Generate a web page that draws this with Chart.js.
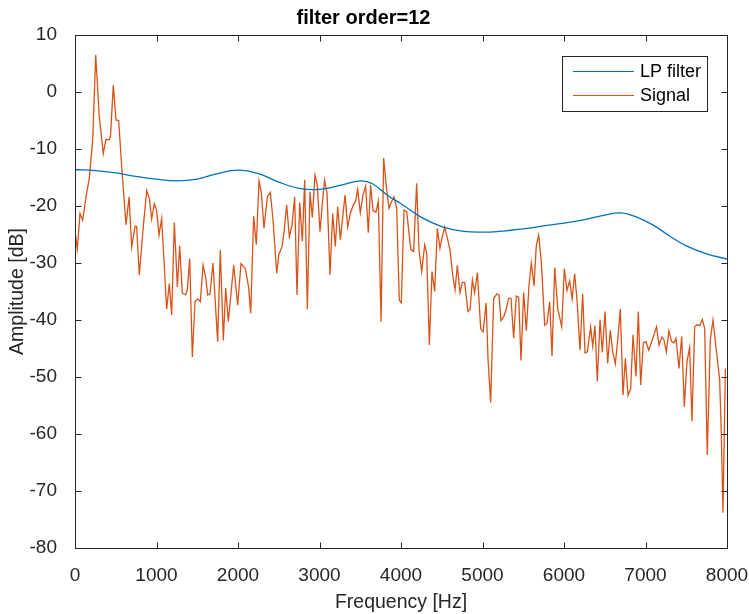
<!DOCTYPE html>
<html>
<head>
<meta charset="utf-8">
<script src="https://cdn.jsdelivr.net/npm/chart.js@4/dist/chart.umd.min.js"></script>
<style>
html, body { margin: 0; padding: 0; background: #fff; }
</style>
</head>
<body>
<canvas id="grafico" width="749" height="614"></canvas>
<script>
// frequências do sinal (Hz) e amplitude (dB)
const signalHz = [0, 28, 61, 94, 135, 176, 217, 254, 298, 347, 380, 421, 436, 470, 503, 536, 573, 626, 663, 696,
  736, 756, 789, 838, 880, 913, 941, 973, 1001, 1031, 1063, 1125, 1157, 1186, 1219, 1256, 1284, 1317, 1358, 1378,
  1407, 1440, 1472, 1505, 1538, 1571, 1604, 1628, 1656, 1693, 1750, 1783, 1820, 1849, 1881, 1947, 1996, 2037, 2090, 2130,
  2156, 2192, 2225, 2258, 2286, 2319, 2360, 2397, 2430, 2475, 2500, 2540, 2565, 2597, 2630, 2663, 2695, 2724, 2757, 2790,
  2818, 2851, 2883, 2912, 2945, 2973, 3006, 3038, 3062, 3092, 3129, 3162, 3194, 3223, 3256, 3313, 3346, 3378, 3415, 3443,
  3468, 3501, 3533, 3566, 3599, 3627, 3656, 3693, 3722, 3755, 3787, 3820, 3853, 3885, 3914, 3947, 3979, 4004, 4037, 4070,
  4120, 4155, 4192, 4221, 4254, 4291, 4315, 4348, 4380, 4413, 4446, 4478, 4503, 4536, 4569, 4601, 4634, 4663, 4691, 4724,
  4753, 4781, 4822, 4847, 4876, 4904, 4937, 4978, 5007, 5045, 5068, 5100, 5137, 5178, 5202, 5227, 5260, 5288, 5321, 5350,
  5382, 5415, 5444, 5472, 5505, 5538, 5570, 5599, 5632, 5660, 5689, 5722, 5763, 5791, 5824, 5853, 5886, 5923, 5972, 6004,
  6037, 6070, 6100, 6131, 6163, 6196, 6229, 6258, 6286, 6327, 6352, 6380, 6409, 6442, 6470, 6503, 6536, 6568, 6597, 6630,
  6663, 6691, 6724, 6753, 6786, 6818, 6847, 6883, 6912, 6941, 6974, 7006, 7039, 7071, 7104, 7135, 7166, 7202, 7227, 7255,
  7288, 7320, 7350, 7374, 7411, 7444, 7476, 7509, 7542, 7570, 7603, 7636, 7665, 7697, 7726, 7758, 7795, 7828, 7869, 7910,
  7930, 7951, 7980];
const signalDb = [-24.5, -27.6, -21.3, -22.5, -18.4, -15.1, -8.4, 6.5, -4.3, -10.8, -8.3, -8.4, -7.6, 1.2, -4.9, -5.0, -13.1, -23.3, -18.4, -27.2,
  -23.6, -23.6, -32.1, -23.6, -17.3, -18.7, -22.3, -19.6, -20.7, -25.1, -22.2, -38.1, -33.6, -39.1, -22.9, -34.2, -27.0, -35.3, -35.6, -34.7,
  -29.2, -46.5, -36.8, -36.3, -36.8, -30.4, -32.5, -35.6, -35.4, -30.0, -43.8, -27.7, -43.6, -34.4, -40.3, -30.4, -37.4, -30.1, -31.0, -34.2,
  -38.8, -21.8, -26.8, -15.6, -17.6, -23.9, -18.4, -17.6, -22.5, -31.8, -28.6, -27.1, -24.5, -19.8, -25.4, -23.3, -18.4, -35.6, -19.4, -26.2,
  -15.4, -38.1, -17.5, -22.0, -14.6, -16.3, -24.5, -19.0, -15.5, -17.7, -32.1, -21.3, -27.1, -20.1, -25.9, -18.1, -23.7, -21.3, -19.8, -19.2,
  -17.1, -21.2, -18.1, -16.5, -24.7, -16.3, -20.8, -21.1, -19.2, -40.3, -11.6, -16.6, -20.4, -19.2, -18.4, -20.4, -36.5, -37.0, -20.7, -21.0,
  -27.6, -28.0, -16.0, -27.7, -31.5, -26.8, -28.2, -44.4, -31.5, -35.0, -23.9, -27.4, -25.6, -23.7, -25.6, -27.7, -32.1, -34.7, -30.4, -35.2,
  -33.4, -33.4, -38.5, -38.2, -33.0, -35.2, -31.7, -41.5, -42.1, -37.0, -46.9, -54.5, -36.2, -35.4, -35.6, -40.1, -39.4, -38.3, -36.2, -36.2,
  -43.2, -35.8, -36.0, -47.1, -35.2, -41.9, -34.0, -30.0, -34.0, -27.0, -25.1, -29.8, -40.9, -40.6, -36.8, -46.3, -30.8, -38.0, -41.2, -31.0,
  -34.8, -33.1, -36.3, -31.9, -37.1, -45.3, -35.4, -45.8, -45.6, -41.2, -44.6, -41.0, -50.8, -39.9, -45.7, -38.5, -47.6, -41.8, -45.5, -47.7,
  -42.9, -38.1, -53.2, -46.7, -53.2, -52.1, -42.6, -49.9, -38.5, -51.4, -44.0, -43.8, -45.3, -44.0, -42.6, -41.2, -44.4, -43.0, -43.5, -45.6,
  -41.9, -43.8, -44.0, -43.2, -48.5, -42.9, -55.2, -47.3, -44.8, -57.8, -41.2, -40.8, -41.0, -39.9, -41.5, -63.7, -43.5, -40.0, -45.3, -50.5,
  -59.9, -73.8, -48.5];

// resposta do filtro passa-baixa
const filterHz = [0, 250, 500, 750, 1000, 1250, 1500, 1750, 2000, 2250, 2500, 2750, 3000, 3250, 3500, 3650, 3850, 4000,
  4250, 4500, 4750, 5000, 5250, 5500, 5750, 6000, 6250, 6500, 6700, 6900, 7100, 7300, 7500, 7750, 8000];
const filterDb = [-13.6, -13.8, -14.2, -14.8, -15.3, -15.6, -15.3, -14.3, -13.7, -14.3, -15.8, -16.9, -17.1, -16.4, -15.6, -16.1, -18.3, -19.6,
  -22.0, -23.6, -24.4, -24.6, -24.4, -24.0, -23.5, -23.0, -22.4, -21.6, -21.2, -22.0, -23.4, -25.3, -27.0, -28.4, -29.3];

const xTicks = [0, 1000, 2000, 3000, 4000, 5000, 6000, 7000, 8000];
const yTicks = [10, 0, -10, -20, -30, -40, -50, -60, -70, -80];

const fonte = '"Liberation Sans", Arial, Helvetica, sans-serif';
const corEixo = '#262626';

// caixa em volta do gráfico com marcas para dentro (estilo MATLAB)
const caixaPlugin = {
    id: 'caixa',
    afterDatasetsDraw(chart) {
        const { ctx, chartArea: a, scales } = chart;
        ctx.save();
        ctx.strokeStyle = corEixo;
        ctx.lineWidth = 1;
        const l = Math.round(a.left) + 0.5, r = Math.round(a.right) + 0.5;
        const t = Math.round(a.top) + 0.5, b = Math.round(a.bottom) + 0.5;
        ctx.strokeRect(l, t, r - l, b - t);
        ctx.beginPath();
        xTicks.forEach(v => {
            const x = Math.round(scales.x.getPixelForValue(v)) + 0.5;
            ctx.moveTo(x, b); ctx.lineTo(x, b - 6);
            ctx.moveTo(x, t); ctx.lineTo(x, t + 6);
        });
        yTicks.forEach(v => {
            const y = Math.round(scales.y.getPixelForValue(v)) + 0.5;
            ctx.moveTo(l, y); ctx.lineTo(l + 6, y);
            ctx.moveTo(r, y); ctx.lineTo(r - 6, y);
        });
        ctx.stroke();
        ctx.restore();
    }
};

// legenda dentro da área do gráfico
const legendaPlugin = {
    id: 'legendaInterna',
    afterDraw(chart) {
        const ctx = chart.ctx;
        const x0 = 562.5, y0 = 56.5, w = 145, h = 55;
        ctx.save();
        ctx.fillStyle = '#fff';
        ctx.fillRect(x0, y0, w, h);
        ctx.strokeStyle = corEixo;
        ctx.lineWidth = 1;
        ctx.strokeRect(x0, y0, w, h);
        ctx.font = '18px ' + fonte;
        ctx.textBaseline = 'middle';
        chart.data.datasets.forEach((ds, i) => {
            const y = y0 + 15 + i * 24;
            ctx.strokeStyle = ds.borderColor;
            ctx.lineWidth = 1.2;
            ctx.beginPath();
            ctx.moveTo(573, y); ctx.lineTo(634, y);
            ctx.stroke();
            ctx.fillStyle = '#000';
            ctx.fillText(ds.label, 640, y + 1);
        });
        ctx.restore();
    }
};

const ctx = document.getElementById('grafico').getContext('2d');
const grafico = new Chart(ctx, {
    type: 'line',
    data: {
        datasets: [{
            label: 'LP filter',
            data: filterHz.map((f, i) => ({ x: f, y: filterDb[i] })),
            borderColor: '#0072BD',
            borderWidth: 1.3,
            pointRadius: 0,
            tension: 0.4,
            fill: false
        }, {
            label: 'Signal',
            data: signalHz.map((f, i) => ({ x: f, y: signalDb[i] })),
            borderColor: '#D95319',
            borderWidth: 1.3,
            pointRadius: 0,
            tension: 0,
            fill: false
        }]
    },
    options: {
        responsive: false,
        animation: false,
        layout: { padding: { left: 0, right: 22, top: 0, bottom: 0 } },
        plugins: {
            legend: { display: false },
            tooltip: { enabled: false },
            title: {
                display: true,
                text: 'filter order=12',
                color: '#000',
                font: { family: fonte, size: 20, weight: 'bold' },
                padding: { top: 6.5, bottom: 4.5 }
            }
        },
        scales: {
            x: {
                type: 'linear',
                min: 0,
                max: 8000,
                afterBuildTicks: s => { s.ticks = xTicks.map(v => ({ value: v })); },
                ticks: { color: corEixo, font: { family: fonte, size: 19 }, padding: 8, maxRotation: 0, autoSkip: false,
                    callback: v => String(v) },
                grid: { display: false },
                border: { display: false },
                title: { display: true, text: 'Frequency [Hz]', color: corEixo, font: { family: fonte, size: 19.5 }, padding: { top: 0, bottom: 0 } },
                afterFit: s => { s.height = 66; s.paddingLeft = 0; s.paddingRight = 0; }
            },
            y: {
                type: 'linear',
                min: -80,
                max: 10,
                afterBuildTicks: s => { s.ticks = yTicks.map(v => ({ value: v })); },
                ticks: { color: corEixo, font: { family: fonte, size: 19 }, padding: 10, callback: v => String(v) },
                grid: { display: false },
                border: { display: false },
                title: { display: true, text: 'Amplitude [dB]', color: corEixo, font: { family: fonte, size: 19.5 }, padding: { top: 6, bottom: 0 } },
                afterFit: s => { s.width = 75; s.paddingTop = 0; s.paddingBottom = 0; }
            }
        }
    },
    plugins: [caixaPlugin, legendaPlugin]
});
</script>
</body>
</html>
